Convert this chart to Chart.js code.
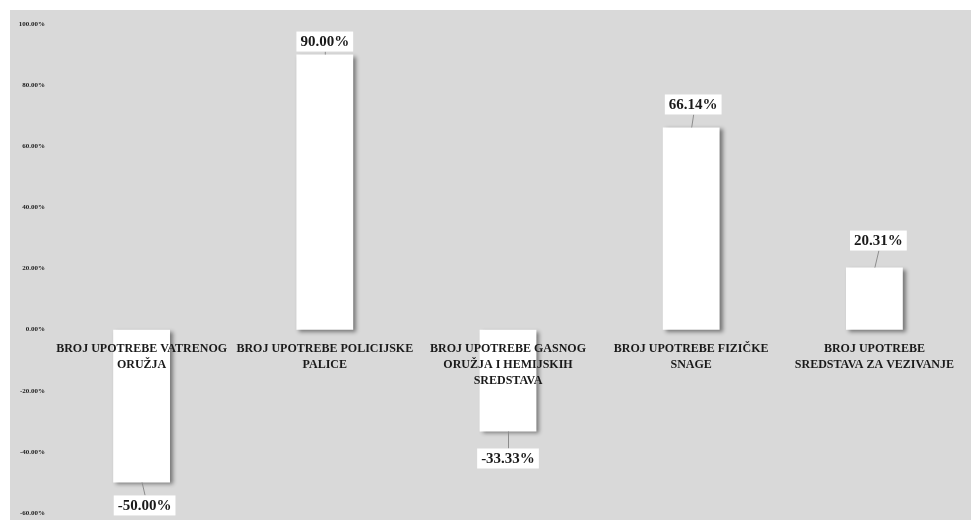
<!DOCTYPE html>
<html>
<head>
<meta charset="utf-8">
<script src="https://cdn.jsdelivr.net/npm/chart.js@4"></script>
<style>
    html, body { margin: 0; padding: 0; background: #ffffff; }
    #wrap { position: absolute; left: 10px; top: 10px; width: 961px; height: 510px; background: #d9d9d9; }
</style>
</head>
<body>
<div id="wrap"><canvas id="chart" width="961" height="510"></canvas></div>
<script>
// Categories (multi-line, as wrapped in the original)
const CATEGORIES = [
    ['BROJ UPOTREBE VATRENOG', 'ORUŽJA'],
    ['BROJ UPOTREBE POLICIJSKE', 'PALICE'],
    ['BROJ UPOTREBE GASNOG', 'ORUŽJA I HEMIJSKIH', 'SREDSTAVA'],
    ['BROJ UPOTREBE FIZIČKE', 'SNAGE'],
    ['BROJ UPOTREBE', 'SREDSTAVA ZA VEZIVANJE']
];

// Percent change per category
const VALUES = [-50.00, 90.00, -33.33, 66.14, 20.31];

// Y axis range
const Y_MIN = -60;
const Y_MAX = 100;
const Y_STEP = 20;

// Data label placement - the labels were nudged by hand in the original
const LABEL_GAP = [13, 3, 17, 13, 17];
const LABEL_DX = [3, 0, 0, 2, 4];

const FONT = '"Liberation Serif", "Times New Roman", serif';

// Soft drop shadow under the white bars
const barShadow = {
    id: 'barShadow',
    beforeDatasetsDraw(chart) {
        const c = chart.ctx;
        c.save();
        c.shadowColor = 'rgba(0, 0, 0, 0.45)';
        c.shadowBlur = 4;
        c.shadowOffsetX = 3;
        c.shadowOffsetY = 2;
    },
    afterDatasetsDraw(chart) {
        chart.ctx.restore();
    }
};

// Value labels in white boxes with leader lines
const valueLabels = {
    id: 'valueLabels',
    afterDraw(chart) {
        const c = chart.ctx;
        const meta = chart.getDatasetMeta(0);
        c.save();
        c.font = 'bold 15px ' + FONT;
        c.textAlign = 'center';
        c.textBaseline = 'middle';
        meta.data.forEach((bar, i) => {
            const v = VALUES[i];
            const text = v.toFixed(2) + '%';
            const w = c.measureText(text).width + 8;
            const h = 20;
            const cx = bar.x + LABEL_DX[i];
            const up = v >= 0;
            const edge = up ? bar.y - LABEL_GAP[i] : bar.y + LABEL_GAP[i];
            const top = up ? edge - h : edge;

            c.strokeStyle = '#8c8c8c';
            c.lineWidth = 1;
            c.beginPath();
            c.moveTo(bar.x + 0.5, bar.y);
            c.lineTo(cx + 0.5, edge);
            c.stroke();

            c.fillStyle = '#ffffff';
            c.fillRect(cx - w / 2, top, w, h);
            c.fillStyle = '#1a1a1a';
            c.fillText(text, cx, top + h / 2 + 1);
        });
        c.restore();
    }
};

const ctx = document.getElementById('chart').getContext('2d');
new Chart(ctx, {
    type: 'bar',
    data: {
        labels: CATEGORIES,
        datasets: [{
            data: VALUES,
            backgroundColor: '#ffffff',
            categoryPercentage: 1,
            barPercentage: 0.31
        }]
    },
    plugins: [barShadow, valueLabels],
    options: {
        responsive: false,
        animation: false,
        layout: { padding: { top: 14, bottom: 7, right: 5, left: 0 } },
        plugins: {
            legend: { display: false },
            tooltip: { enabled: false }
        },
        scales: {
            x: {
                position: { y: 0 },
                grid: { display: false, drawTicks: false },
                border: { display: false },
                ticks: {
                    z: 1,
                    autoSkip: false,
                    maxRotation: 0,
                    minRotation: 0,
                    padding: 11,
                    color: '#1a1a1a',
                    font: { family: FONT, size: 12, weight: 'bold', lineHeight: 1.35 }
                }
            },
            y: {
                min: Y_MIN,
                max: Y_MAX,
                grid: { display: false, drawTicks: false },
                border: { display: false },
                afterFit(scale) {
                    scale.width = 40;
                    scale.paddingTop = 0;
                    scale.paddingBottom = 0;
                },
                ticks: {
                    stepSize: Y_STEP,
                    padding: 5,
                    color: '#222222',
                    font: { family: FONT, size: 7, weight: 'bold' },
                    callback: v => v.toFixed(2) + '%'
                }
            }
        }
    }
});
</script>
</body>
</html>
